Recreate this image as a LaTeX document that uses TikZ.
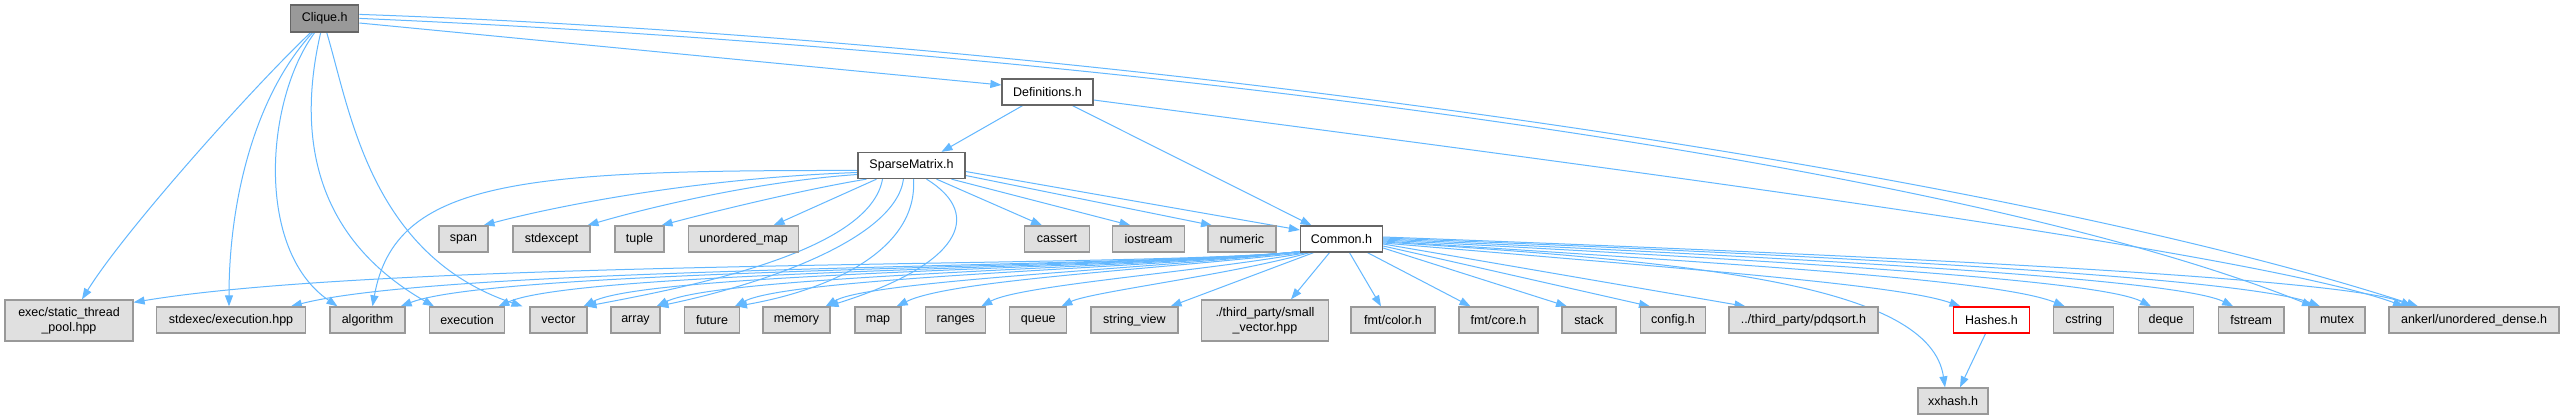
\documentclass[tikz,border=0pt]{standalone}
\usepackage{fontspec}
\setmainfont{Liberation Sans}
\usetikzlibrary{arrows.meta}
\pgfdeclarelayer{edgelayer}
\pgfsetlayers{edgelayer,main}
\definecolor{edgeblue}{HTML}{63B8FF}
\definecolor{boxgray}{HTML}{E0E0E0}
\definecolor{boxborder}{HTML}{999999}
\definecolor{cliquefill}{HTML}{999999}
\definecolor{darkborder}{HTML}{666666}
\newcommand\nodefnt{\fontsize{12.5}{15}\selectfont}
\tikzset{
  box/.style={rectangle, line width=1.3pt, inner sep=0pt, minimum height=26pt, font=\nodefnt, align=center, text=black},
  gbox/.style={box, fill=boxgray, draw=boxborder},
  wbox/.style={box, fill=white, draw=darkborder},
  cbox/.style={box, fill=cliquefill, draw=darkborder},
  rbox/.style={box, fill=white, draw=red},
  edge/.style={draw=edgeblue, line width=1pt, -{Triangle[length=11pt,width=8pt,fill=edgeblue]}}
}
\begin{document}
\begin{tikzpicture}[x=1pt,y=-1pt]
\begin{pgfonlayer}{edgelayer}
\fill[white] (0,0) rectangle (2564,420);
\end{pgfonlayer}
\useasboundingbox (0,0) rectangle (2564,420);
% nodes
\node[cbox, minimum width=68pt, minimum height=27pt] (clique) at (324.7,18.4) {Clique.h};
\node[wbox, minimum width=91pt] (defs) at (1047.5,92) {Definitions.h};
\node[wbox, minimum width=107pt] (sparse) at (911.5,165.5) {SparseMatrix.h};
\node[gbox, minimum width=49pt] (span) at (463.5,239) {span};
\node[gbox, minimum width=77pt] (stdexcept) at (551.5,239) {stdexcept};
\node[gbox, minimum width=49pt] (tuple) at (639.5,239) {tuple};
\node[gbox, minimum width=110pt] (umap) at (743.6,239) {unordered\_map};
\node[gbox, minimum width=65pt] (cassert) at (1057,239) {cassert};
\node[gbox, minimum width=72pt] (iostream) at (1148.5,239) {iostream};
\node[gbox, minimum width=68pt] (numeric) at (1242,239) {numeric};
\node[wbox, minimum width=82pt] (common) at (1341.5,239) {Common.h};
\node[gbox, minimum width=128pt, minimum height=41pt] (pool) at (69,320.5) {exec/static\_thread\\\_pool.hpp};
\node[gbox, minimum width=148.5pt] (stdexec) at (231,320) {stdexec/execution.hpp};
\node[gbox, minimum width=75pt] (algorithm) at (367.5,320) {algorithm};
\node[gbox, minimum width=75.5pt] (execution) at (467,320) {execution};
\node[gbox, minimum width=57pt] (vector) at (558.5,320) {vector};
\node[gbox, minimum width=49pt] (array) at (635.5,320) {array};
\node[gbox, minimum width=54.5pt] (future) at (712,320) {future};
\node[gbox, minimum width=67pt] (memory) at (796.5,320) {memory};
\node[gbox, minimum width=46pt] (map) at (878,320) {map};
\node[gbox, minimum width=60pt] (ranges) at (955.6,320) {ranges};
\node[gbox, minimum width=57pt] (queue) at (1038.3,320) {queue};
\node[gbox, minimum width=87pt] (strview) at (1134.4,320) {string\_view};
\node[gbox, minimum width=127pt, minimum height=41pt] (smallvec) at (1265,320.5) {./third\_party/small\\\_vector.hpp};
\node[gbox, minimum width=84pt] (fmtcolor) at (1393,320) {fmt/color.h};
\node[gbox, minimum width=79pt] (fmtcore) at (1498.5,320) {fmt/core.h};
\node[gbox, minimum width=54pt] (stack) at (1589,320) {stack};
\node[gbox, minimum width=65pt] (config) at (1673,320) {config.h};
\node[gbox, minimum width=149pt] (pdqsort) at (1803.5,320) {../third\_party/pdqsort.h};
\node[rbox, minimum width=76pt] (hashes) at (1991.5,320) {Hashes.h};
\node[gbox, minimum width=60pt] (cstring) at (2083.7,320) {cstring};
\node[gbox, minimum width=55pt] (deque) at (2166,320) {deque};
\node[gbox, minimum width=65.5pt] (fstream) at (2251.2,320) {fstream};
\node[gbox, minimum width=56pt] (mutex) at (2337,320) {mutex};
\node[gbox, minimum width=170pt] (ankerl) at (2474,320) {ankerl/unordered\_dense.h};
\node[gbox, minimum width=70pt] (xxhash) at (1953,401) {xxhash.h};
\begin{pgfonlayer}{edgelayer}
% Clique edges
\draw[edge] ([xshift=-14pt]clique.south) .. controls (255,85) and (125,230) .. ([xshift=13pt]pool.north);
\draw[edge] ([xshift=-12pt]clique.south) .. controls (255,95) and (229,200) .. ([xshift=-2pt]stdexec.north);
\draw[edge] ([xshift=-10pt]clique.south) .. controls (265,100) and (255,250) .. ([xshift=-30pt]algorithm.north);
\draw[edge] ([xshift=-4pt]clique.south) .. controls (298,130) and (310,235) .. ([xshift=-33pt]execution.north);
\draw[edge] ([xshift=2pt]clique.south) .. controls (350,110) and (370,255) .. ([xshift=-36pt]vector.north);
\draw[edge] ([yshift=-4.6pt]clique.east) -- ([yshift=7pt]defs.west);
\draw[edge] ([yshift=4pt]clique.east) .. controls (1100,40) and (2000,170) .. ([xshift=-56pt]ankerl.north);
\draw[edge] (clique.east) .. controls (1100,50) and (1950,160) .. ([xshift=-24pt]mutex.north);
% Definitions edges
\draw[edge] ([xshift=-25pt]defs.south) -- ([xshift=30pt]sparse.north);
\draw[edge] ([xshift=25pt]defs.south) -- ([xshift=-30pt]common.north);
\draw[edge] ([yshift=-8pt]defs.east) .. controls (1550,160) and (2250,250) .. ([xshift=-70pt]ankerl.north);
% SparseMatrix edges
\draw[edge] ([yshift=-5pt]sparse.west) .. controls (520,170) and (395,180) .. ([xshift=5pt]algorithm.north);
\draw[edge] ([yshift=-7pt]sparse.west) .. controls (700,178) and (560,205) .. ([xshift=20pt]span.north);
\draw[edge] ([yshift=-9pt]sparse.west) .. controls (750,182) and (640,210) .. ([xshift=36pt]stdexcept.north);
\draw[edge] ([xshift=-45pt]sparse.south) .. controls (800,190) and (700,215) .. ([xshift=22pt]tuple.north);
\draw[edge] ([xshift=-35pt]sparse.south) -- ([xshift=30pt]umap.north);
\draw[edge] ([xshift=-29pt]sparse.south) .. controls (870,250) and (700,285) .. ([xshift=27pt]vector.north);
\draw[edge] ([xshift=-8pt]sparse.south) .. controls (895,240) and (760,285) .. ([xshift=22pt]array.north);
\draw[edge] ([xshift=2pt]sparse.south) .. controls (918,250) and (830,290) .. ([xshift=24pt]future.north);
\draw[edge] ([xshift=15pt]sparse.south) .. controls (985,215) and (960,265) .. ([xshift=31pt]memory.north);
\draw[edge] ([xshift=25pt]sparse.south) -- ([xshift=-15pt]cassert.north);
\draw[edge] ([xshift=40pt]sparse.south) -- ([xshift=-18pt]iostream.north);
\draw[edge] ([yshift=-10pt]sparse.east) -- ([xshift=-30pt]numeric.north);
\draw[edge] ([yshift=-6pt]sparse.east) -- ([yshift=9pt]common.west);
% Common edges to the left
\draw[edge] ([yshift=1pt]common.south west) .. controls (1150,268) and (400,258) .. ([yshift=-3pt]pool.north east);
\draw[edge] ([yshift=1pt]common.south west) .. controls (1150,268) and (450,265) .. ([xshift=-15pt]stdexec.north east);
\draw[edge] ([yshift=1pt]common.south west) .. controls (1150,268) and (500,268) .. ([xshift=-5pt]algorithm.north east);
\draw[edge] ([yshift=1pt]common.south west) .. controls (1150,268) and (580,270) .. ([xshift=-7pt]execution.north east);
\draw[edge] ([yshift=1pt]common.south west) .. controls (1150,268) and (650,272) .. ([xshift=-4pt]vector.north east);
\draw[edge] ([yshift=1pt]common.south west) .. controls (1150,268) and (720,275) .. ([xshift=-4pt]array.north east);
\draw[edge] ([yshift=1pt]common.south west) .. controls (1160,268) and (790,277) .. ([xshift=-5pt]future.north east);
\draw[edge] ([yshift=1pt]common.south west) .. controls (1170,268) and (870,280) .. ([xshift=-5pt]memory.north east);
\draw[edge] ([xshift=-38pt]common.south) .. controls (1150,270) and (950,280) .. ([xshift=-5pt]map.north east);
\draw[edge] ([xshift=-35pt]common.south) .. controls (1200,272) and (1020,285) .. ([xshift=-5pt]ranges.north east);
\draw[edge] ([xshift=-32pt]common.south) .. controls (1230,275) and (1090,292) .. ([xshift=-6pt]queue.north east);
\draw[edge] ([xshift=-28pt]common.south) -- ([xshift=-8pt]strview.north east);
\draw[edge] ([xshift=-12pt]common.south) -- ([xshift=26pt]smallvec.north);
\draw[edge] ([xshift=8pt]common.south) -- ([xshift=-12pt]fmtcolor.north);
\draw[edge] ([xshift=26pt]common.south) -- ([xshift=-28pt]fmtcore.north);
% Common edges to the right
\draw[edge] ([yshift=-9pt]common.east) -- ([xshift=-22pt]stack.north);
\draw[edge] ([yshift=-7pt]common.east) -- ([xshift=-23pt]config.north);
\draw[edge] ([yshift=-5pt]common.east) -- ([xshift=-58pt]pdqsort.north);
\draw[edge] ([yshift=-4pt]common.east) .. controls (1700,270) and (1900,285) .. ([xshift=-31pt]hashes.north);
\draw[edge] ([yshift=-3pt]common.east) .. controls (1700,262) and (1930,285) .. ([xshift=-8pt]xxhash.north);
\draw[edge] ([yshift=-2pt]common.east) .. controls (1750,265) and (2000,280) .. ([xshift=-19pt]cstring.north);
\draw[edge] ([yshift=-1pt]common.east) .. controls (1800,262) and (2100,280) .. ([xshift=-15pt]deque.north);
\draw[edge] (common.east) .. controls (1850,260) and (2180,280) .. ([xshift=-18pt]fstream.north);
\draw[edge] ([yshift=1pt]common.east) .. controls (1900,258) and (2250,280) .. ([xshift=-17pt]mutex.north);
\draw[edge] ([yshift=2pt]common.east) .. controls (1950,258) and (2350,280) .. ([xshift=-62pt]ankerl.north);
% Hashes
\draw[edge] ([xshift=-6pt]hashes.south) -- ([xshift=7pt]xxhash.north);
\end{pgfonlayer}
\end{tikzpicture}
\end{document}
